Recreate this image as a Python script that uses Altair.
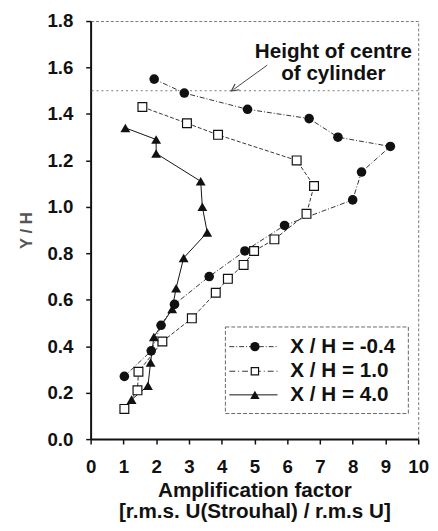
import altair as alt
import pandas as pd

# ---- data ----
circ_x = [1.94, 2.86, 4.79, 6.67, 7.55, 9.15, 8.27, 8.00, 5.92, 4.71, 3.62, 2.56, 2.15, 1.85, 1.03]
circ_y = [1.55, 1.49, 1.42, 1.38, 1.30, 1.26, 1.15, 1.03, 0.92, 0.81, 0.70, 0.58, 0.49, 0.38, 0.27]

sq_x = [1.58, 2.94, 3.89, 6.29, 6.82, 6.59, 5.61, 4.99, 4.67, 4.19, 3.82, 3.09, 2.19, 1.46, 1.43, 1.03]
sq_y = [1.43, 1.36, 1.31, 1.20, 1.09, 0.97, 0.86, 0.81, 0.75, 0.69, 0.63, 0.52, 0.42, 0.29, 0.21, 0.13]

tri_x = [1.06, 2.00, 2.00, 3.36, 3.41, 3.56, 2.84, 2.61, 2.49, 1.93, 1.83, 1.75, 1.25]
tri_y = [1.34, 1.29, 1.23, 1.11, 1.00, 0.89, 0.78, 0.65, 0.56, 0.44, 0.33, 0.23, 0.17]

series_labels = ["X / H = -0.4", "X / H = 1.0", "X / H = 4.0"]
x_ticks = [0, 1, 2, 3, 4, 5, 6, 7, 8, 9, 10]
y_ticks = [0.0, 0.2, 0.4, 0.6, 0.8, 1.0, 1.2, 1.4, 1.6, 1.8]
centre_height = [1.5]
annot_lines = ["Height of centre", "of cylinder"]
annot_x = [7.41, 7.41]
annot_y = [1.665, 1.57]
arrow_from = (5.39, 1.61)
arrow_to = (4.36, 1.505)

FONT = "Liberation Sans"
INK = "#111111"
LINE = "#333333"


def frame(xs, ys):
    return pd.DataFrame({"x": xs, "y": ys, "i": list(range(len(xs)))})


xs = alt.Scale(domain=[0, 10], nice=False, zero=False)
ys = alt.Scale(domain=[0, 1.8], nice=False, zero=False)

x_axis = alt.Axis(
    values=x_ticks,
    tickCount=len(x_ticks) + 2,
    format="d",
    labelOverlap=False,
    labelFlush=False,
    title=["Amplification factor", "[r.m.s. U(Strouhal) / r.m.s U]"],
    labelPadding=14,
    titlePadding=3,
    titleFontSize=21,
    titleLineHeight=22,
)
y_axis = alt.Axis(
    values=y_ticks,
    tickCount=len(y_ticks) + 2,
    format=".1f",
    labelOverlap=False,
    title="Y / H",
    labelPadding=13,
    titlePadding=12,
    titleFontSize=17,
    titleColor="#555555",
)


def X(field="x"):
    return alt.X(f"{field}:Q", scale=xs, axis=x_axis)


def Y(field="y"):
    return alt.Y(f"{field}:Q", scale=ys, axis=y_axis)


base_c = alt.Chart(frame(circ_x, circ_y))
base_s = alt.Chart(frame(sq_x, sq_y))
base_t = alt.Chart(frame(tri_x, tri_y))

line_c = base_c.mark_line(color=LINE, strokeWidth=1, strokeDash=[5, 2, 1, 2]).encode(x=X(), y=Y(), order="i:O")
line_s = base_s.mark_line(color=LINE, strokeWidth=1, strokeDash=[4, 2]).encode(x=X(), y=Y(), order="i:O")
line_t = base_t.mark_line(color=INK, strokeWidth=1).encode(x=X(), y=Y(), order="i:O")

pt_c = base_c.mark_point(shape="circle", filled=True, color=INK, size=95, opacity=1).encode(x=X(), y=Y())
pt_s = base_s.mark_point(shape="square", filled=False, color=INK, fill="white", fillOpacity=1,
                         strokeWidth=1.2, size=80, opacity=1).encode(x=X(), y=Y())
pt_t = base_t.mark_point(shape="triangle-up", filled=True, color=INK, size=100, opacity=1).encode(x=X(), y=Y())

ref = alt.Chart(pd.DataFrame({"y": centre_height})).mark_rule(
    color="#777777", strokeWidth=1, strokeDash=[2, 3]
).encode(y=Y())

annot = alt.Chart(pd.DataFrame({"x": annot_x, "y": annot_y, "t": annot_lines})).mark_text(
    font=FONT, fontWeight="bold", fontSize=21, color=INK, align="center", baseline="middle"
).encode(x=X(), y=Y(), text="t:N")

arrow_df = pd.DataFrame({"x": [arrow_from[0]], "y": [arrow_from[1]], "x2": [arrow_to[0]], "y2": [arrow_to[1]]})
arrow_line = alt.Chart(arrow_df).mark_rule(color="#444444", strokeWidth=1).encode(
    x=X(), y=Y(), x2="x2:Q", y2="y2:Q"
)
arrow_head = alt.Chart(pd.DataFrame({"x": [arrow_to[0]], "y": [arrow_to[1]]})).mark_point(
    shape="M-0.7,0.9L0,-0.5L0.7,0.9", filled=False, color="#444444", strokeWidth=1.2,
    size=110, angle=234, opacity=1
).encode(x=X(), y=Y())

# ---- legend box (drawn in pixel positions of the plot area) ----
legend_layers = []
box = alt.Chart(pd.DataFrame({"a": [0]})).mark_rect(
    fill="white", stroke="#666666", strokeWidth=1, strokeDash=[4, 2]
).encode(x=alt.value(137), x2=alt.value(323), y=alt.value(311), y2=alt.value(399))
legend_layers.append(box)

row_y = [331, 356, 380]
dashes = [[5, 2, 1, 2], [6, 3, 1, 3], None]
shapes = ["circle", "square", "triangle-up"]
for k in range(3):
    d = pd.DataFrame({"label": [series_labels[k]]})
    rule_kw = dict(color=LINE if k < 2 else INK, strokeWidth=1)
    if dashes[k]:
        rule_kw["strokeDash"] = dashes[k]
    legend_layers.append(
        alt.Chart(d).mark_rule(**rule_kw).encode(x=alt.value(141), x2=alt.value(190), y=alt.value(row_y[k]))
    )
    if shapes[k] == "square":
        pm = alt.Chart(d).mark_point(shape="square", filled=False, color=INK, fill="white", fillOpacity=1,
                                     strokeWidth=1.2, size=55, opacity=1)
    else:
        pm = alt.Chart(d).mark_point(shape=shapes[k], filled=True, color=INK, size=90, opacity=1)
    legend_layers.append(pm.encode(x=alt.value(167), y=alt.value(row_y[k])))
    legend_layers.append(
        alt.Chart(d).mark_text(font=FONT, fontWeight="bold", fontSize=21, color=INK,
                               align="left", baseline="middle").encode(
            x=alt.value(203), y=alt.value(row_y[k]), text="label:N")
    )

chart = alt.layer(
    line_c, ref, line_s, line_t, pt_c, pt_s, pt_t, annot, arrow_line, arrow_head, *legend_layers
).properties(
    width=333,
    height=425,
    autosize=alt.AutoSizeParams(type="none"),
    padding={"left": 84, "top": 9, "right": 12, "bottom": 80},
    background="white",
).configure_view(
    stroke="#777777", strokeWidth=1, strokeDash=[3, 2]
).configure_axis(
    grid=False,
    labelOverlap=False,
    labelFlush=False,
    domainColor=INK,
    domainWidth=2,
    tickColor=INK,
    tickSize=5,
    tickWidth=1.5,
    labelFont=FONT,
    labelFontWeight="bold",
    labelFontSize=19,
    labelColor=INK,
    titleFont=FONT,
    titleFontWeight="bold",
    titleColor=INK,
)

chart.save("out.html", embed_options={"renderer": "svg", "actions": False})
